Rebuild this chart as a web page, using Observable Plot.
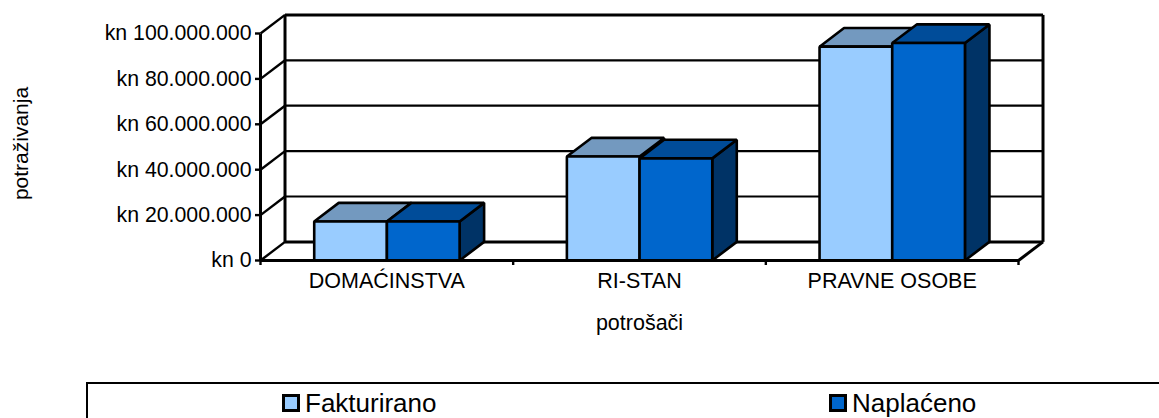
<!DOCTYPE html>
<html>
<head>
<meta charset="utf-8">
<script src="https://cdn.jsdelivr.net/npm/d3@7"></script>
<script src="https://cdn.jsdelivr.net/npm/@observablehq/plot@0.6"></script>
<style>
html,body{margin:0;padding:0;background:#fff;overflow:hidden;width:1159px;height:418px;font-family:"Liberation Sans",Arial,sans-serif;color:#000}
svg{display:block}
#legend{position:relative;margin-left:86px;width:1200px;height:36px;border-left:2px solid #000;border-top:2px solid #000;box-sizing:border-box;margin-top:2px}
.item{position:absolute;top:7px;display:flex;align-items:center;font-size:26px;line-height:24px;height:24px}
.sw{width:18px;height:18px;border:3px solid #000;box-sizing:border-box;margin-right:5px}
</style>
</head>
<body>
<div id="chart"></div>
<div id="legend"></div>
<script>
const categories = ["DOMAĆINSTVA", "RI-STAN", "PRAVNE OSOBE"];
const fakturirano = [17.2e6, 45.8e6, 94.2e6];
const naplaceno = [17.2e6, 45.0e6, 95.8e6];
const seriesNames = ["Fakturirano", "Naplaćeno"];
const frontColors = ["#99CCFF", "#0066CC"];
const topColors = ["#7399BF", "#004C99"];
const sideColors = ["#4D6680", "#003366"];
const yTicks = [0, 20e6, 40e6, 60e6, 80e6, 100e6];
const xEdges = [0, 1, 2, 3];
const xCenters = [0.5, 1.5, 2.5];

// projection of the 3D box, in data units
const depthX = 0.097, depthY = 8.2e6;
const barW = 0.2877, barStart = 0.2126;

const fmt = v => "kn " + String(v).replace(/\B(?=(\d{3})+(?!\d))/g, ".");

function faces(values, s, kind) {
  const out = [];
  values.forEach((v, i) => {
    const x0 = i + barStart + s * barW, x1 = x0 + barW;
    const pts = kind === "front" ? [[x0, 0], [x1, 0], [x1, v], [x0, v]]
      : kind === "top" ? [[x0, v], [x1, v], [x1 + depthX, v + depthY], [x0 + depthX, v + depthY]]
      : [[x1, 0], [x1 + depthX, depthY], [x1 + depthX, v + depthY], [x1, v]];
    pts.forEach(p => out.push({id: i, x: p[0], y: p[1]}));
  });
  return out;
}
const face = (values, s, kind, color) => Plot.line(faces(values, s, kind), {
  x: "x", y: "y", z: "id", curve: "linear-closed", fill: color, stroke: "#000",
  strokeWidth: 2.6, strokeLinejoin: "miter"
});
const seg = (data, w) => Plot.link(data, {x1: "a", y1: "b", x2: "c", y2: "d", stroke: "#000", strokeWidth: w});

const gridBack = yTicks.slice(1, -1).map(v => ({a: depthX, b: v + depthY, c: 3 + depthX, d: v + depthY}));
const wallDiag = yTicks.map(v => ({a: 0, b: v, c: depthX, d: v + depthY}));
const frame = [
  {a: depthX, b: 100e6 + depthY, c: 3 + depthX, d: 100e6 + depthY},
  {a: depthX, b: depthY, c: depthX, d: 100e6 + depthY},
  {a: 3 + depthX, b: depthY, c: 3 + depthX, d: 100e6 + depthY},
  {a: 0, b: 0, c: 0, d: 100e6},
  {a: depthX, b: depthY, c: 3 + depthX, d: depthY},
  {a: 3, b: 0, c: 3 + depthX, d: depthY},
  {a: 0, b: 0, c: 3, d: 0}
];

const chart = Plot.plot({
  width: 1159, height: 380,
  marginLeft: 260, marginRight: 141, marginTop: 33, marginBottom: 120,
  x: {type: "linear", domain: [0, 3], range: [260, 1018], axis: null},
  y: {domain: [0, 100e6], range: [260, 33], axis: null},
  style: {fontFamily: "'Liberation Sans', Arial, sans-serif", background: "#fff", color: "#000"},
  marks: [
    seg(gridBack, 2.2),
    seg(wallDiag, 2.4),
    seg(frame, 3),
    face(fakturirano, 0, "side", sideColors[0]),
    face(fakturirano, 0, "top", topColors[0]),
    face(fakturirano, 0, "front", frontColors[0]),
    face(naplaceno, 1, "side", sideColors[1]),
    face(naplaceno, 1, "top", topColors[1]),
    face(naplaceno, 1, "front", frontColors[1]),
    seg([{a: 0, b: 0, c: 3, d: 0}], 3),
    Plot.axisY({
      ticks: yTicks, tickFormat: fmt, tickSize: 5, tickPadding: 4, fontSize: 21.3,
      stroke: "#000", fill: "#000", strokeOpacity: 1, strokeWidth: 2.4, label: null
    }),
    Plot.text(["potraživanja"], {
      text: d => d, frameAnchor: "left", textAnchor: "middle", rotate: -90, dx: -239, dy: -3.5, fontSize: 21, fill: "#000"
    }),
    Plot.axisX({
      ticks: xEdges, tickFormat: () => "", tickSize: 5, stroke: "#000", strokeOpacity: 1, strokeWidth: 2.4,
      label: null, anchor: "bottom"
    }),
    Plot.axisX({
      ticks: xCenters, tickFormat: d => categories[Math.floor(d)], tickSize: 0, tickPadding: 12, fontSize: 21.5, fill: "#000",
      label: "potrošači", labelAnchor: "center", labelOffset: 69, labelArrow: "none", anchor: "bottom"
    })
  ]
});
document.getElementById("chart").append(chart);

const positions = [194, 741];
const legend = document.getElementById("legend");
seriesNames.forEach((n, i) => {
  const item = document.createElement("div");
  item.className = "item";
  item.style.left = positions[i] + "px";
  const sw = document.createElement("span");
  sw.className = "sw";
  sw.style.background = frontColors[i];
  const t = document.createElement("span");
  t.textContent = n;
  item.append(sw, t);
  legend.append(item);
});
</script>
</body>
</html>
